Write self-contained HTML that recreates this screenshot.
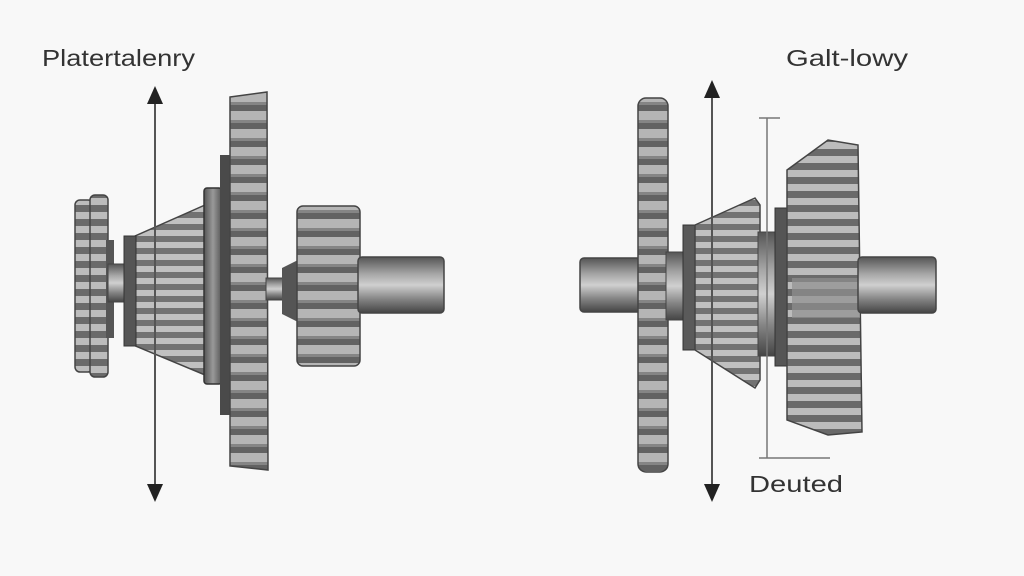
<!DOCTYPE html>
<html><head><meta charset="utf-8"><style>
html,body{margin:0;padding:0;background:#f8f8f8;}
svg{display:block}
text{font-family:"Liberation Sans",sans-serif;fill:#333}
</style></head><body>
<svg width="1024" height="576" viewBox="0 0 1024 576" xmlns="http://www.w3.org/2000/svg">
<defs>
<linearGradient id="cyl" x1="0" y1="0" x2="0" y2="1">
<stop offset="0" stop-color="#555"/><stop offset="0.3" stop-color="#a5a5a5"/><stop offset="0.5" stop-color="#d0d0d0"/><stop offset="0.75" stop-color="#858585"/><stop offset="1" stop-color="#444"/></linearGradient>
<linearGradient id="hx" x1="0" y1="0" x2="1" y2="0">
<stop offset="0" stop-color="#555"/><stop offset="0.5" stop-color="#999"/><stop offset="1" stop-color="#555"/></linearGradient>
<pattern id="teeth" width="40" height="18" patternUnits="userSpaceOnUse">
<rect width="40" height="18" fill="#626262"/><rect y="3" width="40" height="9" fill="#b5b5b5"/><rect y="12" width="40" height="3" fill="#858585"/></pattern>
<pattern id="teeth2" width="40" height="14" patternUnits="userSpaceOnUse">
<rect width="40" height="14" fill="#6a6a6a"/><rect y="2" width="40" height="7" fill="#bcbcbc"/></pattern>
<pattern id="cone" width="40" height="12" patternUnits="userSpaceOnUse">
<rect width="40" height="12" fill="#727272"/><rect y="2" width="40" height="6" fill="#c0c0c0"/></pattern>
</defs>

<text x="42" y="66" font-size="23" textLength="153" lengthAdjust="spacingAndGlyphs">Platertalenry</text>
<text x="786" y="66" font-size="23" textLength="122" lengthAdjust="spacingAndGlyphs">Galt-lowy</text>
<text x="749" y="492" font-size="23" textLength="94" lengthAdjust="spacingAndGlyphs">Deuted</text>

<!-- LEFT -->
<rect x="75" y="200" width="18" height="172" rx="5" fill="url(#teeth2)" stroke="#444" stroke-width="1.5"/>
<rect x="90" y="195" width="18" height="182" rx="5" fill="url(#teeth2)" stroke="#444" stroke-width="1.5"/>
<rect x="106" y="240" width="8" height="98" fill="#555"/>
<rect x="108" y="264" width="20" height="38" fill="url(#cyl)" stroke="#444"/>
<polygon points="126,240 205,205 205,375 126,342" fill="url(#cone)" stroke="#444" stroke-width="1.5"/>
<rect x="124" y="236" width="12" height="110" fill="#555" stroke="#333"/>
<rect x="204" y="188" width="18" height="196" rx="3" fill="url(#hx)" stroke="#333" stroke-width="1.5"/>
<rect x="220" y="155" width="12" height="260" fill="#4a4a4a"/>
<polygon points="230,97 267,92 268,470 230,466" fill="url(#teeth)" stroke="#444" stroke-width="1.5"/>
<rect x="266" y="278" width="24" height="22" fill="url(#cyl)" stroke="#444"/>
<polygon points="282,268 298,260 298,322 282,314" fill="#555"/>
<rect x="297" y="206" width="63" height="160" rx="6" fill="url(#teeth)" stroke="#444" stroke-width="1.5"/>
<rect x="358" y="257" width="86" height="56" rx="4" fill="url(#cyl)" stroke="#444" stroke-width="1.5"/>
<line x1="155" y1="100" x2="155" y2="490" stroke="#555" stroke-width="2"/>
<polygon points="155,86 147,104 163,104" fill="#222"/>
<polygon points="155,502 147,484 163,484" fill="#222"/>

<!-- RIGHT -->
<rect x="580" y="258" width="82" height="54" rx="4" fill="url(#cyl)" stroke="#444" stroke-width="1.5"/>
<rect x="638" y="98" width="30" height="374" rx="8" fill="url(#teeth)" stroke="#444" stroke-width="1.5"/>
<rect x="666" y="252" width="20" height="68" fill="url(#cyl)" stroke="#444"/>
<rect x="683" y="225" width="14" height="125" fill="#5a5a5a" stroke="#333"/>
<polygon points="695,225 755,198 760,205 760,380 755,388 695,350" fill="url(#cone)" stroke="#444" stroke-width="1.5"/>
<rect x="758" y="232" width="18" height="124" fill="url(#cyl)" stroke="#444"/>
<rect x="775" y="208" width="13" height="158" fill="#555" stroke="#333"/>
<polygon points="787,170 828,140 858,145 862,432 828,435 787,420" fill="url(#teeth2)" stroke="#444" stroke-width="1.5"/>
<rect x="792" y="278" width="68" height="40" fill="#909090" opacity="0.7"/>
<rect x="858" y="257" width="78" height="56" rx="4" fill="url(#cyl)" stroke="#444" stroke-width="1.5"/>
<line x1="712" y1="96" x2="712" y2="488" stroke="#555" stroke-width="2"/>
<polygon points="712,80 704,98 720,98" fill="#222"/>
<polygon points="712,502 704,484 720,484" fill="#222"/>
<line x1="767" y1="118" x2="767" y2="458" stroke="#777" stroke-width="1.5"/>
<line x1="759" y1="118" x2="780" y2="118" stroke="#777" stroke-width="1.5"/>
<line x1="759" y1="458" x2="830" y2="458" stroke="#777" stroke-width="1.5"/>
</svg>
</body></html>
